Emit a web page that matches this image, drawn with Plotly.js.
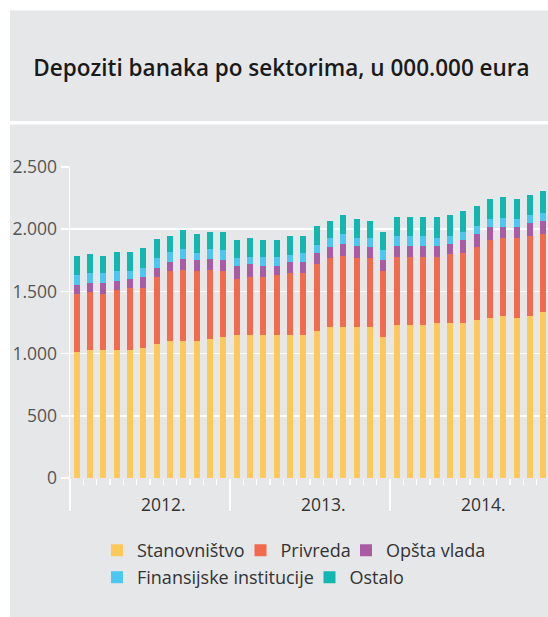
<!DOCTYPE html>
<html>
<head>
<meta charset="utf-8">
<script src="https://cdn.plot.ly/plotly-3.0.1.min.js"></script>
<style>html,body{margin:0;padding:0;background:#fff;}#chart{width:548px;height:617px;}</style>
</head>
<body>
<div id="chart"></div>
<script>
// ---- data (millions of EUR), monthly Jan 2012 – Dec 2014 ----
const years = ['2012.', '2013.', '2014.'];
const monthNums = ['01','02','03','04','05','06','07','08','09','10','11','12'];
const months = years.flatMap(y => monthNums.map(m => m + '.' + y));

const stanovnistvo = [1015,1029,1029,1029,1029,1045,1075,1104,1104,1104,1117,1136,
                      1152,1152,1152,1152,1152,1152,1181,1211,1211,1211,1211,1136,
                      1227,1227,1227,1243,1243,1243,1270,1288,1302,1288,1302,1331];
const privreda     = [463,468,449,481,495,479,539,559,572,559,559,527,
                      449,465,465,478,494,494,543,556,572,556,556,527,
                      550,550,550,534,556,569,588,629,628,642,647,634];
const opstaVlada   = [75,72,91,75,74,90,78,74,88,88,88,88,
                      102,102,86,73,89,89,85,88,102,102,88,88,
                      92,92,92,92,86,105,101,101,88,88,101,101];
const finansijske  = [77,77,77,80,67,78,77,78,77,61,77,80,
                      66,61,77,77,61,77,65,78,80,64,78,80,
                      77,77,77,64,61,61,64,67,75,67,62,64];
const ostalo       = [153,153,137,150,150,153,150,134,150,153,137,147,
                      148,153,137,137,153,137,149,133,147,152,133,147,
                      152,152,152,165,166,166,167,161,166,161,166,177];

const seriesNames  = ['Stanovništvo', 'Privreda', 'Opšta vlada', 'Finansijske institucije', 'Ostalo'];
const seriesValues = [stanovnistvo, privreda, opstaVlada, finansijske, ostalo];
const colors       = ['#FFC85A', '#F26B4C', '#A95CA4', '#4CC7F2', '#12B7B2'];
const yTickVals    = [0, 500, 1000, 1500, 2000, 2500];
const yTickText    = ['0', '500', '1.000', '1.500', '2.000', '2.500'];

// ---- layout geometry (pixels) ----
const W = 548, H = 617;
const ML = 70, MR = 0, MT = 166.7, MB = H - 478.3;
const plotW = W - ML - MR, plotH = H - MT - MB;
const px2x = p => (p - ML) / plotW;
const px2y = p => (H - MB - p) / plotH;

const xIdx = months.map((_, i) => i);
const font = 'Open Sans, Noto Sans, sans-serif';
const gray = '#E6E7E8';

// legend entry placement (pixel origin x, centre y) – one legend per entry
const legendPos = [[97, 551], [240.5, 551], [346, 551], [97, 578], [309.5, 578]];
const legendIds = ['legend', 'legend2', 'legend3', 'legend4', 'legend5'];

const traces = seriesNames.map((name, k) => ({
  type: 'bar',
  name: name,
  x: xIdx,
  y: seriesValues[k],
  customdata: months,
  hovertemplate: '%{customdata}<br>' + name + ': %{y}<extra></extra>',
  marker: {color: colors[k], line: {width: 0}},
  legend: legendIds[k]
}));

const yearStarts = years.map((_, i) => i * 12 - 0.5).concat([years.length * 12 - 0.5]);

const layout = {
  width: W, height: H,
  margin: {l: ML, r: MR, t: MT, b: MB, pad: 0},
  paper_bgcolor: '#ffffff',
  plot_bgcolor: 'rgba(0,0,0,0)',
  barmode: 'stack',
  bargap: 0.53,
  font: {family: font, color: '#444'},
  title: {
    text: 'Depoziti banaka po sektorima, u 000.000 eura',
    font: {family: font, size: 22.5, weight: 600, color: '#1a1a1a'},
    xref: 'container', yref: 'container',
    x: 281.5 / W, y: 1 - 68 / H, xanchor: 'center', yanchor: 'middle'
  },
  xaxis: {
    range: [-0.5, 35.35],
    tickmode: 'array',
    tickvals: yearStarts,
    showticklabels: false,
    ticks: 'outside', ticklen: 32, tickwidth: 1.5, tickcolor: '#ffffff',
    minor: {tickmode: 'linear', tick0: -0.5, dtick: 1, ticks: 'outside', ticklen: 6, tickwidth: 1.5, tickcolor: '#ffffff', showgrid: false},
    showgrid: false, zeroline: false, showline: false, fixedrange: true
  },
  yaxis: {
    range: [0, 2500],
    tickmode: 'array', tickvals: yTickVals, ticktext: yTickText,
    ticks: 'outside', ticklen: 8, tickwidth: 1.5, tickcolor: '#ffffff',
    tickfont: {family: font, size: 17.5, color: '#555'},
    showgrid: true, gridcolor: '#ffffff', gridwidth: 1.5,
    zeroline: false, showline: true, linecolor: '#ffffff', linewidth: 1.5,
    fixedrange: true
  },
  annotations: years.map((y, i) => ({
    text: y, xref: 'x', yref: 'paper', x: i * 12 + 6.5, y: px2y(504),
    xanchor: 'center', yanchor: 'middle', showarrow: false,
    font: {family: font, size: 17.5, color: '#333'}
  })),
  showlegend: true,
  shapes: [
    {type: 'rect', xref: 'paper', yref: 'paper', layer: 'below', line: {width: 0}, fillcolor: gray,
     x0: px2x(10), x1: px2x(W + 5), y0: px2y(10), y1: px2y(120.5)},
    {type: 'rect', xref: 'paper', yref: 'paper', layer: 'below', line: {width: 0}, fillcolor: gray,
     x0: px2x(10), x1: px2x(W + 5), y0: px2y(124), y1: px2y(H + 5)}
  ]
};

legendIds.forEach((id, k) => {
  layout[id] = {
    orientation: 'h', x: px2x(legendPos[k][0]), xanchor: 'left',
    y: px2y(legendPos[k][1]), yanchor: 'middle',
    font: {family: font, size: 18, color: '#333'}, bgcolor: 'rgba(0,0,0,0)',
    itemclick: false, itemdoubleclick: false
  };
});

Plotly.newPlot('chart', traces, layout, {displayModeBar: false, staticPlot: true});
</script>
</body>
</html>
